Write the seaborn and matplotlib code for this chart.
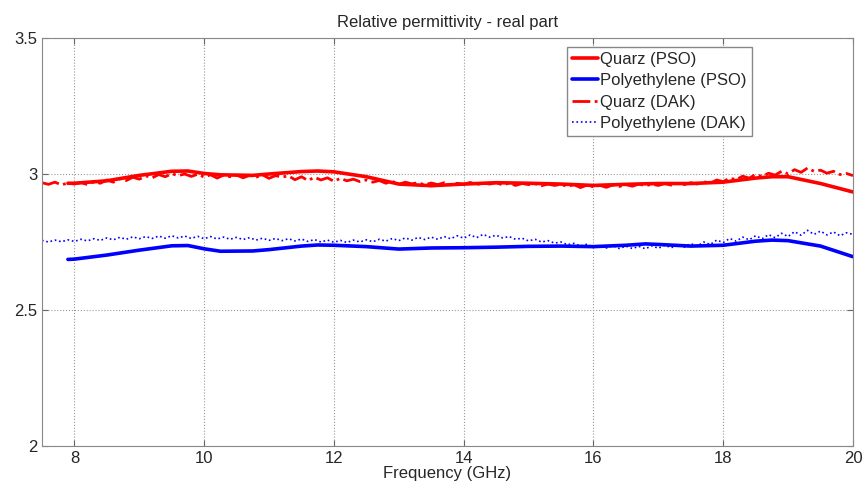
import matplotlib
matplotlib.use("Agg")
import matplotlib.pyplot as plt
import numpy as np
import pandas as pd
import seaborn as sns

sns.set_style("ticks")
plt.rcParams["font.family"] = ["Liberation Sans", "DejaVu Sans"]

# PSO fitted curves
freq_pso = [7.9, 8.0, 8.5, 9.0, 9.5, 9.75, 10.0, 10.25, 10.75, 11.0, 11.5, 11.75,
            12.0, 12.5, 13.0, 13.5, 14.0, 14.5, 15.0, 15.5, 16.0, 16.5, 16.8, 17.0,
            17.5, 18.0, 18.5, 18.75, 19.0, 19.5, 20.0]
quarz_pso = [2.966, 2.966, 2.975, 2.995, 3.010, 3.011, 3.002, 2.997, 2.995, 3.000, 3.009, 3.011,
             3.008, 2.990, 2.963, 2.957, 2.963, 2.968, 2.966, 2.963, 2.958, 2.962, 2.964, 2.965,
             2.965, 2.970, 2.985, 2.990, 2.990, 2.965, 2.934]
poly_pso = [2.686, 2.687, 2.702, 2.720, 2.736, 2.737, 2.725, 2.716, 2.717, 2.722, 2.735, 2.739,
            2.738, 2.733, 2.724, 2.728, 2.729, 2.731, 2.734, 2.735, 2.733, 2.738, 2.743, 2.741,
            2.735, 2.738, 2.753, 2.757, 2.755, 2.735, 2.696]

# DAK measurements (0.1 GHz steps)
freq_dak = [7.5, 7.6, 7.7, 7.8, 7.9, 8.0, 8.1, 8.2, 8.3, 8.4,
            8.5, 8.6, 8.7, 8.8, 8.9, 9.0, 9.1, 9.2, 9.3, 9.4,
            9.5, 9.6, 9.7, 9.8, 9.9, 10.0, 10.1, 10.2, 10.3, 10.4,
            10.5, 10.6, 10.7, 10.8, 10.9, 11.0, 11.1, 11.2, 11.3, 11.4,
            11.5, 11.6, 11.7, 11.8, 11.9, 12.0, 12.1, 12.2, 12.3, 12.4,
            12.5, 12.6, 12.7, 12.8, 12.9, 13.0, 13.1, 13.2, 13.3, 13.4,
            13.5, 13.6, 13.7, 13.8, 13.9, 14.0, 14.1, 14.2, 14.3, 14.4,
            14.5, 14.6, 14.7, 14.8, 14.9, 15.0, 15.1, 15.2, 15.3, 15.4,
            15.5, 15.6, 15.7, 15.8, 15.9, 16.0, 16.1, 16.2, 16.3, 16.4,
            16.5, 16.6, 16.7, 16.8, 16.9, 17.0, 17.1, 17.2, 17.3, 17.4,
            17.5, 17.6, 17.7, 17.8, 17.9, 18.0, 18.1, 18.2, 18.3, 18.4,
            18.5, 18.6, 18.7, 18.8, 18.9, 19.0, 19.1, 19.2, 19.3, 19.4,
            19.5, 19.6, 19.7, 19.8, 19.9, 20.0]
quarz_dak = [2.968, 2.962, 2.970, 2.960, 2.967, 2.963, 2.969, 2.961, 2.971, 2.966,
             2.978, 2.970, 2.983, 2.976, 2.988, 2.981, 2.993, 2.986, 2.998, 2.990,
             3.001, 2.994, 3.000, 2.991, 2.999, 2.989, 2.997, 2.985, 2.996, 2.990,
             2.996, 2.986, 2.995, 2.988, 2.997, 2.984, 2.994, 2.989, 2.993, 2.979,
             2.990, 2.976, 2.988, 2.978, 2.986, 2.973, 2.984, 2.975, 2.981, 2.972,
             2.978, 2.970, 2.976, 2.966, 2.973, 2.962, 2.970, 2.964, 2.968, 2.960,
             2.967, 2.961, 2.968, 2.960, 2.966, 2.962, 2.969, 2.961, 2.967, 2.963,
             2.968, 2.960, 2.966, 2.958, 2.965, 2.961, 2.964, 2.957, 2.963, 2.958,
             2.962, 2.954, 2.961, 2.950, 2.959, 2.953, 2.958, 2.951, 2.960, 2.954,
             2.961, 2.955, 2.963, 2.957, 2.962, 2.958, 2.965, 2.959, 2.966, 2.961,
             2.968, 2.963, 2.972, 2.966, 2.978, 2.972, 2.985, 2.979, 2.992, 2.985,
             2.998, 2.991, 3.003, 2.996, 3.010, 3.001, 3.016, 3.006, 3.022, 3.010,
             3.014, 3.003, 3.010, 2.998, 3.002, 2.994]
poly_dak = [2.756, 2.750, 2.757, 2.751, 2.758, 2.752, 2.760, 2.754, 2.762, 2.756,
            2.765, 2.758, 2.767, 2.760, 2.769, 2.762, 2.770, 2.763, 2.772, 2.764,
            2.773, 2.765, 2.772, 2.763, 2.771, 2.762, 2.770, 2.761, 2.768, 2.760,
            2.767, 2.759, 2.766, 2.757, 2.764, 2.756, 2.763, 2.755, 2.762, 2.754,
            2.761, 2.752, 2.759, 2.750, 2.757, 2.749, 2.756, 2.748, 2.757, 2.750,
            2.758, 2.751, 2.760, 2.753, 2.763, 2.755, 2.765, 2.757, 2.767, 2.759,
            2.768, 2.760, 2.770, 2.762, 2.773, 2.764, 2.776, 2.766, 2.778, 2.768,
            2.775, 2.765, 2.770, 2.760, 2.764, 2.754, 2.760, 2.750, 2.755, 2.746,
            2.750, 2.740, 2.745, 2.735, 2.742, 2.730, 2.738, 2.728, 2.736, 2.726,
            2.735, 2.726, 2.734, 2.725, 2.736, 2.727, 2.738, 2.729, 2.740, 2.731,
            2.744, 2.735, 2.750, 2.741, 2.757, 2.748, 2.763, 2.753, 2.768, 2.758,
            2.773, 2.762, 2.777, 2.766, 2.782, 2.770, 2.788, 2.775, 2.793, 2.778,
            2.790, 2.776, 2.787, 2.773, 2.784, 2.778]

fig = plt.figure(figsize=(8.67, 4.88), dpi=100)
ax = fig.add_axes([0.0484, 0.0861, 0.9354, 0.836])

sns.lineplot(x=freq_pso, y=quarz_pso, ax=ax, color="#ff0000", lw=2.6, label="Quarz (PSO)")
sns.lineplot(x=freq_pso, y=poly_pso, ax=ax, color="#0000ff", lw=2.6, label="Polyethylene (PSO)")
sns.lineplot(x=freq_dak, y=quarz_dak, ax=ax, color="#ff0000", lw=2.0, linestyle="-.",
             label="Quarz (DAK)")
sns.lineplot(x=freq_dak, y=poly_dak, ax=ax, color="#0000ff", lw=1.2, linestyle=":",
             label="Polyethylene (DAK)")

ax.set_xlim(7.5, 20)
ax.set_ylim(2, 3.5)
ax.set_xticks([8, 10, 12, 14, 16, 18, 20])
ax.set_yticks([2, 2.5, 3, 3.5])
ax.set_yticklabels(["2", "2.5", "3", "3.5"])
ax.grid(True, linestyle=":", color="#999999", lw=0.8)
ax.tick_params(direction="in", top=True, right=True, labelsize=12, length=4, color="#666666")
for s in ax.spines.values():
    s.set_color("#888888")
ax.set_xlabel("Frequency (GHz)", fontsize=12, labelpad=0)
ax.set_ylabel("")
ax.set_title("Relative permittivity - real part", fontsize=12, pad=8)

leg = ax.legend(loc="upper right", bbox_to_anchor=(0.875, 0.978), borderaxespad=0,
                fontsize=12, handlelength=1.6, handletextpad=0.1, labelspacing=0.38,
                borderpad=0.3, fancybox=False, framealpha=1)
leg.get_frame().set_edgecolor("#888888")

fig.savefig("out.png", dpi=100)
